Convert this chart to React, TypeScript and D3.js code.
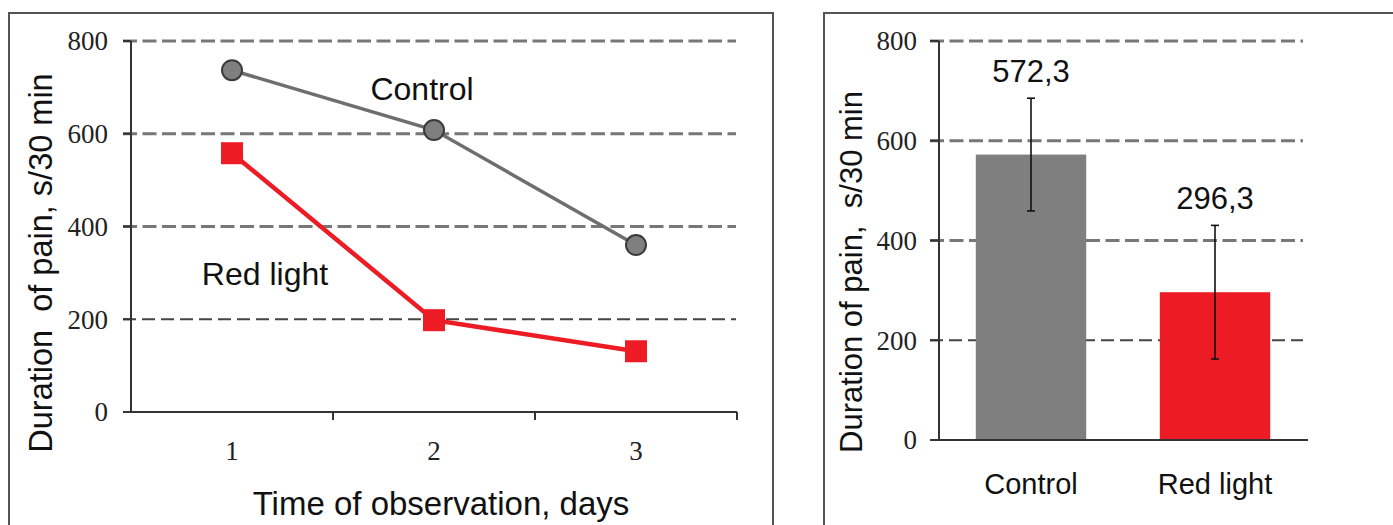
import React from "react";
import * as d3 from "d3";

const days = ["1", "2", "3"];
const controlSeries = [737, 608, 360];
const redSeries = [558, 198, 131];
const yTicks = [0, 200, 400, 600, 800];
const groups = ["Control", "Red light"];
const groupMeans = [572.3, 296.3];
const groupErrors = [113, 134];
const groupLabels = ["572,3", "296,3"];

const SANS = "Liberation Sans, Arial, sans-serif";
const SERIF = "Liberation Serif, Times New Roman, serif";
const GRAY = "#7f7f7f";
const RED = "#ed1c24";

export default function App() {
  // Left panel scales
  const xL = d3.scaleBand<string>().domain(days).range([131, 737]);
  const yL = d3.scaleLinear().domain([0, 800]).range([412, 41]);
  // Right panel scales
  const xR = d3.scaleBand<string>().domain(groups).range([939, 1307]).paddingInner(0.4).paddingOuter(0.2);
  const yR = d3.scaleLinear().domain([0, 800]).range([440, 41]);

  const line = d3
    .line<number>()
    .x((_, i) => (xL(days[i]) as number) + xL.bandwidth() / 2)
    .y((d) => yL(d));

  const cx = (i: number) => (xL(days[i]) as number) + xL.bandwidth() / 2;

  const gridStyle = (t: number) =>
    t === 200
      ? { stroke: "#454545", strokeWidth: 2, strokeDasharray: "13,6" }
      : { stroke: "#777", strokeWidth: 3, strokeDasharray: "14,5.5" };

  return (
    <div style={{ position: "absolute", left: 0, top: 0 }}>
      <svg width={1393} height={525} style={{ display: "block", background: "#fff" }}>
        {/* Panel borders */}
        <rect x={9} y={13} width={764} height={530} fill="none" stroke="#555" strokeWidth={2} />
        <rect x={824} y={13} width={600} height={530} fill="none" stroke="#555" strokeWidth={2} />

        {/* ===== Left panel ===== */}
        {yTicks.filter((t) => t > 0).map((t) => (
          <line key={"gl" + t} x1={123} x2={736} y1={yL(t)} y2={yL(t)} {...gridStyle(t)} />
        ))}
        <line x1={131} x2={131} y1={yL(800)} y2={yL(0)} stroke="#333" strokeWidth={2} />
        <line x1={123} x2={737} y1={yL(0)} y2={yL(0)} stroke="#333" strokeWidth={2} />
        {yTicks.map((t) => (
          <g key={"yt" + t}>
            <line x1={123} x2={131} y1={yL(t)} y2={yL(t)} stroke="#333" strokeWidth={2} />
            <text x={108} y={yL(t)} dy="0.35em" textAnchor="end" fontFamily={SERIF} fontSize={27} fill="#222">
              {t}
            </text>
          </g>
        ))}
        {days.map((d, i) => (
          <g key={"xt" + d}>
            <line
              x1={(xL(d) as number) + xL.step()}
              x2={(xL(d) as number) + xL.step()}
              y1={yL(0)}
              y2={yL(0) + 8}
              stroke="#333"
              strokeWidth={2}
            />
            <text x={cx(i)} y={460} textAnchor="middle" fontFamily={SERIF} fontSize={27} fill="#222">
              {d}
            </text>
          </g>
        ))}

        <path d={line(controlSeries) || ""} fill="none" stroke="#6e6e6e" strokeWidth={3.5} />
        <path d={line(redSeries) || ""} fill="none" stroke={RED} strokeWidth={4.5} />
        {controlSeries.map((v, i) => (
          <circle key={"c" + i} cx={cx(i)} cy={yL(v)} r={10} fill={GRAY} stroke="#3a3a3a" strokeWidth={2} />
        ))}
        {redSeries.map((v, i) => (
          <rect key={"r" + i} x={cx(i) - 11} y={yL(v) - 11} width={22} height={22} fill={RED} />
        ))}

        <text x={422} y={100} textAnchor="middle" fontFamily={SANS} fontSize={32} fill="#111">
          Control
        </text>
        <text x={265} y={285} textAnchor="middle" fontFamily={SANS} fontSize={32} fill="#111">
          Red light
        </text>

        <text
          transform={`translate(52,263) rotate(-90)`}
          textAnchor="middle"
          fontFamily={SANS}
          fontSize={32.5}
          fill="#111"
          style={{ whiteSpace: "pre" }}
        >
          {"Duration  of pain, s/30 min"}
        </text>
        <text x={441} y={515} textAnchor="middle" fontFamily={SANS} fontSize={33} fill="#111">
          Time of observation, days
        </text>

        {/* ===== Right panel ===== */}
        {yTicks.filter((t) => t > 0).map((t) => (
          <line key={"gr" + t} x1={930} x2={1303} y1={yR(t)} y2={yR(t)} {...gridStyle(t)} />
        ))}
        {groups.map((g, i) => {
          const bx = xR(g) as number;
          const bw = xR.bandwidth();
          const mid = bx + bw / 2;
          const top = yR(groupMeans[i] + groupErrors[i]);
          const bot = yR(groupMeans[i] - groupErrors[i]);
          return (
            <g key={"bar" + g}>
              <rect x={bx} y={yR(groupMeans[i])} width={bw} height={yR(0) - yR(groupMeans[i])} fill={i === 0 ? GRAY : RED} />
              <line x1={mid} x2={mid} y1={top} y2={bot} stroke="#111" strokeWidth={1.6} />
              <line x1={mid - 4} x2={mid + 4} y1={top} y2={top} stroke="#111" strokeWidth={1.6} />
              <line x1={mid - 4} x2={mid + 4} y1={bot} y2={bot} stroke="#111" strokeWidth={1.6} />
              <text x={mid} y={top - 16} textAnchor="middle" fontFamily={SANS} fontSize={31} fill="#111">
                {groupLabels[i]}
              </text>
              <text x={mid} y={494} textAnchor="middle" fontFamily={SANS} fontSize={29} fill="#111">
                {g}
              </text>
            </g>
          );
        })}
        <line x1={939} x2={939} y1={yR(800)} y2={yR(0)} stroke="#333" strokeWidth={2} />
        <line x1={930} x2={1308} y1={yR(0)} y2={yR(0)} stroke="#333" strokeWidth={2} />
        {yTicks.map((t) => (
          <g key={"yr" + t}>
            <line x1={930} x2={939} y1={yR(t)} y2={yR(t)} stroke="#333" strokeWidth={2} />
            <text x={917} y={yR(t)} dy="0.35em" textAnchor="end" fontFamily={SERIF} fontSize={27} fill="#222">
              {t}
            </text>
          </g>
        ))}
        <text
          transform={`translate(862,272) rotate(-90)`}
          textAnchor="middle"
          fontFamily={SANS}
          fontSize={31}
          fill="#111"
          style={{ whiteSpace: "pre" }}
        >
          {"Duration of pain,  s/30 min"}
        </text>
      </svg>
    </div>
  );
}
